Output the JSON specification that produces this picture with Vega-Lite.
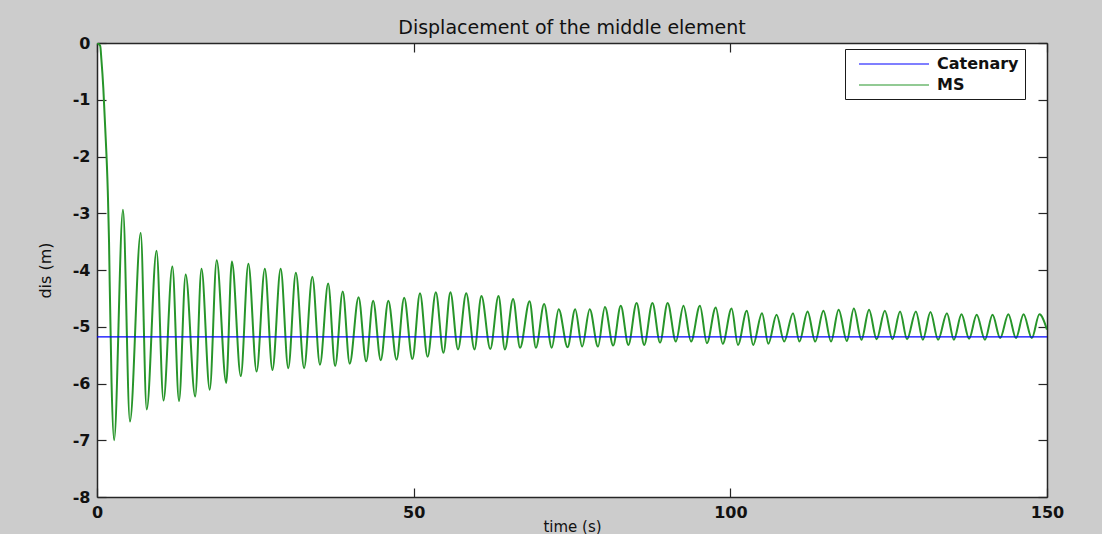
{
  "$schema": "https://vega.github.io/schema/vega-lite/v6.json",
  "width": 950,
  "height": 454,
  "autosize": {"type": "none"},
  "padding": {"left": 97, "top": 43, "right": 55, "bottom": 37},
  "background": "#cccccc",
  "title": {
    "text": "Displacement of the middle element",
    "font": "DejaVu Sans",
    "fontSize": 19,
    "fontWeight": "normal",
    "color": "#111111",
    "anchor": "middle",
    "offset": -3
  },
  "datasets": {
    "catenary": [
      {"t": 0, "v": -5.18, "s": "Catenary"},
      {"t": 150, "v": -5.18, "s": "Catenary"}
    ],
    "ms": [
      {"t": 0, "v": 0, "s": "MS"},
      {"t": 0.5, "v": -0.05, "s": "MS"},
      {"t": 0.7, "v": -0.3, "s": "MS"},
      {"t": 1.0, "v": -0.8, "s": "MS"},
      {"t": 1.3, "v": -1.5, "s": "MS"},
      {"t": 1.7, "v": -2.6, "s": "MS"},
      {"t": 1.9, "v": -3.5, "s": "MS"},
      {"t": 2.0, "v": -4.2, "s": "MS"},
      {"t": 2.3, "v": -6.0, "s": "MS"},
      {"t": 2.7, "v": -7.0, "s": "MS"},
      {"t": 4.1, "v": -2.94, "s": "MS"},
      {"t": 5.2, "v": -6.67, "s": "MS"},
      {"t": 6.9, "v": -3.35, "s": "MS"},
      {"t": 7.85, "v": -6.46, "s": "MS"},
      {"t": 9.4, "v": -3.66, "s": "MS"},
      {"t": 10.5, "v": -6.3, "s": "MS"},
      {"t": 11.9, "v": -3.94, "s": "MS"},
      {"t": 12.95, "v": -6.31, "s": "MS"},
      {"t": 14.0, "v": -4.08, "s": "MS"},
      {"t": 15.5, "v": -6.23, "s": "MS"},
      {"t": 16.5, "v": -3.98, "s": "MS"},
      {"t": 17.8, "v": -6.11, "s": "MS"},
      {"t": 18.9, "v": -3.83, "s": "MS"},
      {"t": 20.4, "v": -5.99, "s": "MS"},
      {"t": 21.3, "v": -3.85, "s": "MS"},
      {"t": 22.7, "v": -5.87, "s": "MS"},
      {"t": 23.9, "v": -3.89, "s": "MS"},
      {"t": 25.2, "v": -5.79, "s": "MS"},
      {"t": 26.5, "v": -3.98, "s": "MS"},
      {"t": 27.7, "v": -5.76, "s": "MS"},
      {"t": 29.0, "v": -3.98, "s": "MS"},
      {"t": 30.2, "v": -5.73, "s": "MS"},
      {"t": 31.4, "v": -4.05, "s": "MS"},
      {"t": 32.7, "v": -5.73, "s": "MS"},
      {"t": 34.0, "v": -4.12, "s": "MS"},
      {"t": 35.2, "v": -5.67, "s": "MS"},
      {"t": 36.5, "v": -4.24, "s": "MS"},
      {"t": 37.6, "v": -5.69, "s": "MS"},
      {"t": 38.8, "v": -4.38, "s": "MS"},
      {"t": 39.9, "v": -5.65, "s": "MS"},
      {"t": 41.3, "v": -4.48, "s": "MS"},
      {"t": 42.5, "v": -5.61, "s": "MS"},
      {"t": 43.6, "v": -4.54, "s": "MS"},
      {"t": 44.8, "v": -5.59, "s": "MS"},
      {"t": 46.0, "v": -4.54, "s": "MS"},
      {"t": 47.3, "v": -5.58, "s": "MS"},
      {"t": 48.5, "v": -4.49, "s": "MS"},
      {"t": 49.8, "v": -5.57, "s": "MS"},
      {"t": 51.0, "v": -4.41, "s": "MS"},
      {"t": 52.2, "v": -5.53, "s": "MS"},
      {"t": 53.5, "v": -4.39, "s": "MS"},
      {"t": 54.7, "v": -5.46, "s": "MS"},
      {"t": 55.8, "v": -4.39, "s": "MS"},
      {"t": 57.0, "v": -5.4, "s": "MS"},
      {"t": 58.3, "v": -4.41, "s": "MS"},
      {"t": 59.6, "v": -5.4, "s": "MS"},
      {"t": 60.7, "v": -4.46, "s": "MS"},
      {"t": 62.1, "v": -5.39, "s": "MS"},
      {"t": 63.4, "v": -4.46, "s": "MS"},
      {"t": 64.4, "v": -5.4, "s": "MS"},
      {"t": 65.7, "v": -4.51, "s": "MS"},
      {"t": 66.8, "v": -5.37, "s": "MS"},
      {"t": 68.3, "v": -4.55, "s": "MS"},
      {"t": 69.3, "v": -5.37, "s": "MS"},
      {"t": 70.6, "v": -4.6, "s": "MS"},
      {"t": 71.8, "v": -5.37, "s": "MS"},
      {"t": 72.9, "v": -4.69, "s": "MS"},
      {"t": 74.3, "v": -5.36, "s": "MS"},
      {"t": 75.5, "v": -4.69, "s": "MS"},
      {"t": 76.6, "v": -5.35, "s": "MS"},
      {"t": 77.8, "v": -4.69, "s": "MS"},
      {"t": 79.1, "v": -5.35, "s": "MS"},
      {"t": 80.2, "v": -4.65, "s": "MS"},
      {"t": 81.5, "v": -5.33, "s": "MS"},
      {"t": 82.7, "v": -4.63, "s": "MS"},
      {"t": 83.9, "v": -5.32, "s": "MS"},
      {"t": 85.2, "v": -4.58, "s": "MS"},
      {"t": 86.4, "v": -5.32, "s": "MS"},
      {"t": 87.7, "v": -4.58, "s": "MS"},
      {"t": 88.9, "v": -5.28, "s": "MS"},
      {"t": 90.1, "v": -4.58, "s": "MS"},
      {"t": 91.4, "v": -5.26, "s": "MS"},
      {"t": 92.6, "v": -4.63, "s": "MS"},
      {"t": 93.8, "v": -5.26, "s": "MS"},
      {"t": 95.2, "v": -4.63, "s": "MS"},
      {"t": 96.3, "v": -5.29, "s": "MS"},
      {"t": 97.7, "v": -4.66, "s": "MS"},
      {"t": 98.8, "v": -5.3, "s": "MS"},
      {"t": 100.2, "v": -4.68, "s": "MS"},
      {"t": 101.2, "v": -5.32, "s": "MS"},
      {"t": 102.6, "v": -4.72, "s": "MS"},
      {"t": 103.6, "v": -5.32, "s": "MS"},
      {"t": 105.0, "v": -4.76, "s": "MS"},
      {"t": 106.0, "v": -5.3, "s": "MS"},
      {"t": 107.3, "v": -4.79, "s": "MS"},
      {"t": 108.5, "v": -5.26, "s": "MS"},
      {"t": 109.9, "v": -4.76, "s": "MS"},
      {"t": 110.9, "v": -5.26, "s": "MS"},
      {"t": 112.2, "v": -4.73, "s": "MS"},
      {"t": 113.4, "v": -5.26, "s": "MS"},
      {"t": 114.7, "v": -4.72, "s": "MS"},
      {"t": 115.9, "v": -5.26, "s": "MS"},
      {"t": 117.1, "v": -4.7, "s": "MS"},
      {"t": 118.4, "v": -5.25, "s": "MS"},
      {"t": 119.5, "v": -4.68, "s": "MS"},
      {"t": 120.7, "v": -5.23, "s": "MS"},
      {"t": 121.9, "v": -4.7, "s": "MS"},
      {"t": 123.1, "v": -5.22, "s": "MS"},
      {"t": 124.4, "v": -4.72, "s": "MS"},
      {"t": 125.6, "v": -5.22, "s": "MS"},
      {"t": 126.8, "v": -4.73, "s": "MS"},
      {"t": 127.9, "v": -5.22, "s": "MS"},
      {"t": 129.3, "v": -4.73, "s": "MS"},
      {"t": 130.4, "v": -5.23, "s": "MS"},
      {"t": 131.6, "v": -4.74, "s": "MS"},
      {"t": 132.8, "v": -5.23, "s": "MS"},
      {"t": 134.2, "v": -4.76, "s": "MS"},
      {"t": 135.3, "v": -5.23, "s": "MS"},
      {"t": 136.5, "v": -4.78, "s": "MS"},
      {"t": 137.7, "v": -5.21, "s": "MS"},
      {"t": 138.9, "v": -4.79, "s": "MS"},
      {"t": 140.2, "v": -5.23, "s": "MS"},
      {"t": 141.4, "v": -4.79, "s": "MS"},
      {"t": 142.6, "v": -5.2, "s": "MS"},
      {"t": 143.9, "v": -4.78, "s": "MS"},
      {"t": 145.1, "v": -5.2, "s": "MS"},
      {"t": 146.3, "v": -4.78, "s": "MS"},
      {"t": 147.6, "v": -5.2, "s": "MS"},
      {"t": 148.8, "v": -4.78, "s": "MS"},
      {"t": 150, "v": -5.05, "s": "MS"}
    ]
  },
  "layer": [
    {
      "data": {"name": "ms"},
      "mark": {"type": "line", "interpolate": "monotone", "strokeWidth": 2, "clip": true},
      "encoding": {
        "x": {
          "field": "t",
          "type": "quantitative",
          "scale": {"domain": [0, 150], "nice": false, "zero": false},
          "axis": {"orient": "bottom", "title": "time (s)", "values": [0, 50, 100, 150], "titlePadding": -1, "titleFontSize": 15, "labelExpr": "toString(datum.value)"}
        },
        "y": {
          "field": "v",
          "type": "quantitative",
          "scale": {"domain": [-8, 0], "nice": false, "zero": false},
          "axis": {"orient": "left", "title": "dis (m)", "values": [-8, -7, -6, -5, -4, -3, -2, -1, 0], "titlePadding": 19, "labelExpr": "toString(datum.value)"}
        },
        "color": {
          "field": "s",
          "type": "nominal",
          "scale": {"domain": ["Catenary", "MS"], "range": ["#0000ff", "#27952a"]},
          "legend": {
            "title": null,
            "orient": "none",
            "legendX": 748,
            "legendY": 6,
            "fillColor": "#ffffff",
            "strokeColor": "#1a1a1a",
            "padding": 6,
            "symbolType": "M-0.125,0L8.625,0",
            "symbolSize": 256,
            "symbolStrokeWidth": 1.2,
            "labelOffset": 68,
            "rowPadding": 4,
            "labelFont": "DejaVu Sans",
            "labelFontSize": 16,
            "labelFontWeight": "bold",
            "labelColor": "#111111"
          }
        }
      }
    },
    {
      "data": {"name": "catenary"},
      "mark": {"type": "line", "strokeWidth": 1.2},
      "encoding": {
        "x": {
          "field": "t",
          "type": "quantitative",
          "axis": {"orient": "top", "labels": false, "title": null, "values": [0, 50, 100, 150]}
        },
        "y": {
          "field": "v",
          "type": "quantitative",
          "axis": {"orient": "right", "labels": false, "title": null, "values": [-8, -7, -6, -5, -4, -3, -2, -1, 0]}
        },
        "color": {"field": "s", "type": "nominal"}
      }
    }
  ],
  "resolve": {"axis": {"x": "independent", "y": "independent"}},
  "config": {
    "view": {"stroke": null, "fill": "#ffffff"},
    "axis": {
      "grid": false,
      "domainColor": "#262626",
      "domainWidth": 1.5,
      "tickColor": "#262626",
      "tickWidth": 1.2,
      "tickSize": -9,
      "labelPadding": 16,
      "labelFlush": false,
      "labelFont": "DejaVu Sans",
      "labelFontSize": 16,
      "labelFontWeight": "bold",
      "labelColor": "#111111",
      "titleFont": "DejaVu Sans",
      "titleFontSize": 16,
      "titleFontWeight": "normal",
      "titleColor": "#111111"
    }
  }
}
